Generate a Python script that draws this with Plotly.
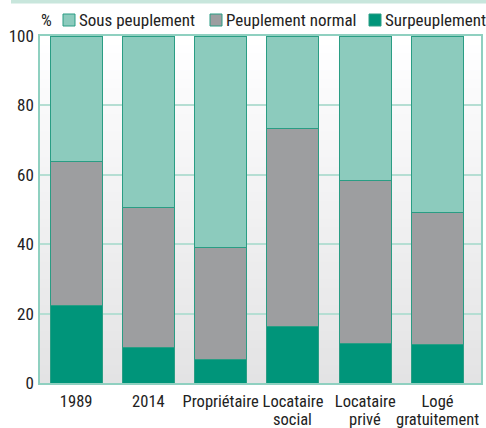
import plotly.graph_objects as go

categories = ["1989", "2014", "Propriétaire", "Locataire social", "Locataire privé", "Logé gratuitement"]
tick_line1 = ["1989", "2014", "Propriétaire", "Locataire", "Locataire", "Logé"]
tick_line2 = ["", "", "", "social", "privé", "gratuitement"]
surpeuplement = [22.3, 10.2, 6.7, 16.2, 11.3, 11.1]
peuplement_normal = [41.4, 40.3, 32.3, 57.1, 47.0, 38.0]
sous_peuplement = [36.3, 49.5, 61.0, 26.7, 41.7, 50.9]

series = [
    ("Sous peuplement", sous_peuplement, "#8ccbbd"),
    ("Peuplement normal", peuplement_normal, "#9d9ea0"),
    ("Surpeuplement", surpeuplement, "#00957a"),
]

font = "Roboto Condensed, Liberation Sans Narrow, sans-serif"
edge = "#2a9d84"

W, H = 486, 428
L, R, T, B = 40, 5, 36, 45
pw, ph = W - L - R, H - T - B


def px_x(x):
    return (x - L) / pw


def px_y(y):
    return (H - B - y) / ph


fig = go.Figure()
for name, vals, col in reversed(series):
    fig.add_trace(go.Bar(x=categories, y=vals, name=name, showlegend=False,
                         marker=dict(color=col, line=dict(color=edge, width=1))))

shapes = []
# soft vertical gradient behind the bars
nb = 40
for i in range(nb):
    g = int(round(255 - (255 - 227) * (1 - (i + 0.5) / nb)))
    shapes.append(dict(type="rect", xref="paper", yref="paper", x0=0, x1=1,
                       y0=i / nb, y1=(i + 1) / nb + 0.002,
                       fillcolor=f"rgb({g},{g},{g + 1})", line=dict(width=0), layer="below"))
# thin band at the very top
shapes.append(dict(type="rect", xref="paper", yref="paper", x0=px_x(11), x1=px_x(490),
                   y0=px_y(3.5), y1=px_y(-2), fillcolor="#c8e6dc", line=dict(width=0)))

annotations = [dict(text="%", xref="paper", yref="paper", x=px_x(39), y=px_y(20),
                    xanchor="left", yanchor="middle", showarrow=False)]

# hand-placed legend (squares + labels) like the reference
legend_sq = [63, 210, 369]
for (name, vals, col), sx in zip(series, legend_sq):
    shapes.append(dict(type="rect", xref="paper", yref="paper",
                       x0=px_x(sx), x1=px_x(sx + 12), y0=px_y(26), y1=px_y(14),
                       fillcolor=col, line=dict(color=edge, width=1)))
    annotations.append(dict(text=name, xref="paper", yref="paper", x=px_x(sx + 14), y=px_y(20),
                            xanchor="left", yanchor="middle", showarrow=False))

# second line of the category labels, set tighter than plotly's <br> spacing
for cat, t2 in zip(categories, tick_line2):
    if t2:
        annotations.append(dict(text=t2, xref="x", yref="paper", x=cat, y=px_y(408),
                                xanchor="center", yanchor="top", showarrow=False,
                                font=dict(size=16.5)))

fig.update_layout(
    barmode="stack",
    bargap=0.28,
    width=W, height=H,
    margin=dict(l=L, r=R, t=T, b=B),
    paper_bgcolor="white",
    plot_bgcolor="#f2f2f2",
    font=dict(family=font, size=17, color="#222"),
    showlegend=False,
    xaxis=dict(showline=True, linecolor="#8fd0c0", linewidth=1.5, mirror=True,
               ticks="", tickvals=categories, ticktext=tick_line1, tickangle=0,
               tickfont=dict(size=16.5), ticklabelstandoff=2, automargin=False),
    yaxis=dict(range=[0, 100], dtick=20, showgrid=True, gridcolor="#b5ded3",
               gridwidth=1.5, showline=True, linecolor="#8fd0c0", linewidth=1.5,
               mirror=True, ticks="", ticklabelstandoff=1, zeroline=False,
               automargin=False),
    shapes=shapes,
    annotations=annotations,
)

# drop the page's default body margin so the figure sits at the window corner
fig.write_html("out.html", config={"displayModeBar": False},
               post_script="document.body.style.margin='0';")
